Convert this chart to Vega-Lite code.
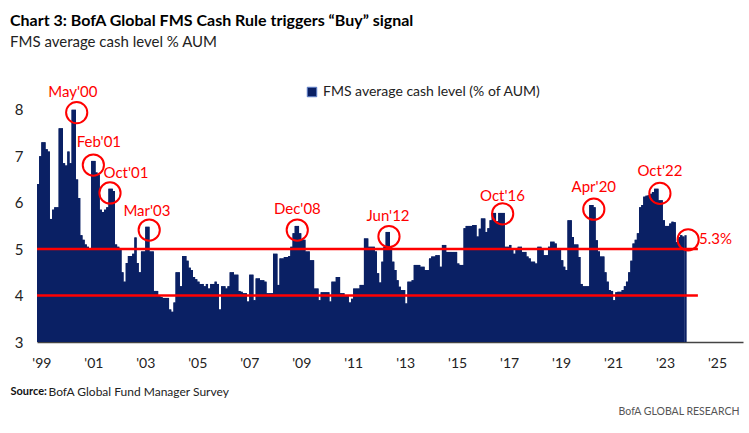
{
  "$schema": "https://vega.github.io/schema/vega-lite/v6.json",
  "width": 706,
  "height": 274,
  "autosize": {"type": "none"},
  "padding": {"left": 37, "top": 68, "right": 6, "bottom": 91},
  "background": "white",
  "config": {"view": {"stroke": null}, "font": "Lato, sans-serif"},
  "title": {
    "text": "Chart 3: BofA Global FMS Cash Rule triggers “Buy” signal",
    "subtitle": "FMS average cash level % AUM",
    "anchor": "start",
    "frame": "group",
    "dx": -27,
    "offset": 18,
    "font": "Lato, sans-serif",
    "subtitleFont": "Lato, sans-serif",
    "fontSize": 16,
    "fontWeight": "bold",
    "color": "#000000",
    "subtitleFontSize": 15,
    "subtitleColor": "#222222",
    "subtitlePadding": 6
  },
  "datasets": {
    "cash": [
      {"d":"1998-11","v":6.4},{"d":"1998-12","v":7.0},
      {"d":"1999-01","v":7.3},{"d":"1999-02","v":7.3},{"d":"1999-03","v":7.15},{"d":"1999-04","v":7.1},{"d":"1999-05","v":5.65},{"d":"1999-06","v":5.85},{"d":"1999-07","v":5.9},{"d":"1999-08","v":5.9},{"d":"1999-09","v":7.6},{"d":"1999-10","v":7.6},{"d":"1999-11","v":6.85},{"d":"1999-12","v":6.8},
      {"d":"2000-01","v":7.1},{"d":"2000-02","v":6.85},{"d":"2000-03","v":8.0},{"d":"2000-04","v":8.0},{"d":"2000-05","v":6.5},{"d":"2000-06","v":6.1},{"d":"2000-07","v":5.3},{"d":"2000-08","v":5.2},{"d":"2000-09","v":5.1},{"d":"2000-10","v":5.05},{"d":"2000-11","v":5.0},{"d":"2000-12","v":6.9},
      {"d":"2001-01","v":6.9},{"d":"2001-02","v":6.65},{"d":"2001-03","v":6.6},{"d":"2001-04","v":5.85},{"d":"2001-05","v":5.8},{"d":"2001-06","v":5.85},{"d":"2001-07","v":5.9},{"d":"2001-08","v":6.3},{"d":"2001-09","v":6.3},{"d":"2001-10","v":6.25},{"d":"2001-11","v":5.1},{"d":"2001-12","v":5.05},
      {"d":"2002-01","v":5.0},{"d":"2002-02","v":4.5},{"d":"2002-03","v":4.3},{"d":"2002-04","v":4.7},{"d":"2002-05","v":4.85},{"d":"2002-06","v":4.85},{"d":"2002-07","v":4.9},{"d":"2002-08","v":5.25},{"d":"2002-09","v":4.7},{"d":"2002-10","v":4.5},{"d":"2002-11","v":4.95},{"d":"2002-12","v":4.95},
      {"d":"2003-01","v":5.48},{"d":"2003-02","v":5.48},{"d":"2003-03","v":4.95},{"d":"2003-04","v":4.95},{"d":"2003-05","v":4.1},{"d":"2003-06","v":4.1},{"d":"2003-07","v":4.0},{"d":"2003-08","v":3.97},{"d":"2003-09","v":3.95},{"d":"2003-10","v":3.95},{"d":"2003-11","v":3.95},{"d":"2003-12","v":3.7},
      {"d":"2004-01","v":3.65},{"d":"2004-02","v":3.85},{"d":"2004-03","v":4.5},{"d":"2004-04","v":4.5},{"d":"2004-05","v":4.2},{"d":"2004-06","v":4.85},{"d":"2004-07","v":4.85},{"d":"2004-08","v":4.75},{"d":"2004-09","v":4.6},{"d":"2004-10","v":4.55},{"d":"2004-11","v":4.4},{"d":"2004-12","v":4.35},
      {"d":"2005-01","v":4.3},{"d":"2005-02","v":4.25},{"d":"2005-03","v":4.25},{"d":"2005-04","v":4.2},{"d":"2005-05","v":4.25},{"d":"2005-06","v":4.15},{"d":"2005-07","v":4.25},{"d":"2005-08","v":4.25},{"d":"2005-09","v":4.3},{"d":"2005-10","v":4.25},{"d":"2005-11","v":3.7},{"d":"2005-12","v":4.2},
      {"d":"2006-01","v":4.2},{"d":"2006-02","v":4.15},{"d":"2006-03","v":4.2},{"d":"2006-04","v":4.5},{"d":"2006-05","v":4.5},{"d":"2006-06","v":4.45},{"d":"2006-07","v":4.45},{"d":"2006-08","v":4.1},{"d":"2006-09","v":4.08},{"d":"2006-10","v":4.05},{"d":"2006-11","v":4.05},{"d":"2006-12","v":3.87},
      {"d":"2007-01","v":4.45},{"d":"2007-02","v":4.45},{"d":"2007-03","v":3.9},{"d":"2007-04","v":4.37},{"d":"2007-05","v":4.37},{"d":"2007-06","v":4.33},{"d":"2007-07","v":4.33},{"d":"2007-08","v":4.3},{"d":"2007-09","v":4.05},{"d":"2007-10","v":4.05},{"d":"2007-11","v":4.05},{"d":"2007-12","v":4.9},
      {"d":"2008-01","v":4.9},{"d":"2008-02","v":4.23},{"d":"2008-03","v":4.8},{"d":"2008-04","v":4.8},{"d":"2008-05","v":4.83},{"d":"2008-06","v":4.83},{"d":"2008-07","v":4.85},{"d":"2008-08","v":5.05},{"d":"2008-09","v":5.34},{"d":"2008-10","v":5.5},{"d":"2008-11","v":5.5},{"d":"2008-12","v":5.34},
      {"d":"2009-01","v":5.2},{"d":"2009-02","v":5.2},{"d":"2009-03","v":4.95},{"d":"2009-04","v":4.95},{"d":"2009-05","v":4.76},{"d":"2009-06","v":4.76},{"d":"2009-07","v":4.15},{"d":"2009-08","v":4.15},{"d":"2009-09","v":3.9},{"d":"2009-10","v":4.07},{"d":"2009-11","v":4.07},{"d":"2009-12","v":4.07},
      {"d":"2010-01","v":4.07},{"d":"2010-02","v":3.87},{"d":"2010-03","v":4.3},{"d":"2010-04","v":4.3},{"d":"2010-05","v":4.4},{"d":"2010-06","v":4.4},{"d":"2010-07","v":4.05},{"d":"2010-08","v":4.05},{"d":"2010-09","v":4.0},{"d":"2010-10","v":4.0},{"d":"2010-11","v":3.85},{"d":"2010-12","v":3.93},
      {"d":"2011-01","v":4.15},{"d":"2011-02","v":4.15},{"d":"2011-03","v":4.15},{"d":"2011-04","v":4.23},{"d":"2011-05","v":4.23},{"d":"2011-06","v":5.23},{"d":"2011-07","v":5.23},{"d":"2011-08","v":5.05},{"d":"2011-09","v":5.05},{"d":"2011-10","v":5.05},{"d":"2011-11","v":4.95},{"d":"2011-12","v":4.48},
      {"d":"2012-01","v":4.28},{"d":"2012-02","v":4.73},{"d":"2012-03","v":5.05},{"d":"2012-04","v":5.37},{"d":"2012-05","v":5.37},{"d":"2012-06","v":5.05},{"d":"2012-07","v":4.73},{"d":"2012-08","v":4.55},{"d":"2012-09","v":4.33},{"d":"2012-10","v":4.19},{"d":"2012-11","v":4.12},{"d":"2012-12","v":4.12},
      {"d":"2013-01","v":3.83},{"d":"2013-02","v":4.3},{"d":"2013-03","v":4.3},{"d":"2013-04","v":4.33},{"d":"2013-05","v":4.66},{"d":"2013-06","v":4.66},{"d":"2013-07","v":4.66},{"d":"2013-08","v":4.62},{"d":"2013-09","v":4.62},{"d":"2013-10","v":4.55},{"d":"2013-11","v":4.55},{"d":"2013-12","v":4.8},
      {"d":"2014-01","v":4.84},{"d":"2014-02","v":4.84},{"d":"2014-03","v":4.87},{"d":"2014-04","v":4.87},{"d":"2014-05","v":4.62},{"d":"2014-06","v":5.09},{"d":"2014-07","v":5.09},{"d":"2014-08","v":4.94},{"d":"2014-09","v":4.94},{"d":"2014-10","v":4.94},{"d":"2014-11","v":4.94},{"d":"2014-12","v":4.94},
      {"d":"2015-01","v":4.69},{"d":"2015-02","v":4.66},{"d":"2015-03","v":4.66},{"d":"2015-04","v":5.45},{"d":"2015-05","v":5.5},{"d":"2015-06","v":5.5},{"d":"2015-07","v":5.5},{"d":"2015-08","v":5.52},{"d":"2015-09","v":5.52},{"d":"2015-10","v":5.27},{"d":"2015-11","v":5.44},{"d":"2015-12","v":5.66},
      {"d":"2016-01","v":5.66},{"d":"2016-02","v":5.37},{"d":"2016-03","v":5.45},{"d":"2016-04","v":5.62},{"d":"2016-05","v":5.78},{"d":"2016-06","v":5.78},{"d":"2016-07","v":5.6},{"d":"2016-08","v":5.78},{"d":"2016-09","v":5.78},{"d":"2016-10","v":5.78},{"d":"2016-11","v":5.05},{"d":"2016-12","v":5.05},
      {"d":"2017-01","v":5.09},{"d":"2017-02","v":4.98},{"d":"2017-03","v":4.9},{"d":"2017-04","v":5.01},{"d":"2017-05","v":5.05},{"d":"2017-06","v":5.05},{"d":"2017-07","v":4.94},{"d":"2017-08","v":4.94},{"d":"2017-09","v":4.84},{"d":"2017-10","v":4.8},{"d":"2017-11","v":4.73},{"d":"2017-12","v":4.73},
      {"d":"2018-01","v":4.69},{"d":"2018-02","v":5.05},{"d":"2018-03","v":5.05},{"d":"2018-04","v":5.01},{"d":"2018-05","v":4.87},{"d":"2018-06","v":4.87},{"d":"2018-07","v":5.05},{"d":"2018-08","v":5.16},{"d":"2018-09","v":5.16},{"d":"2018-10","v":5.12},{"d":"2018-11","v":4.98},{"d":"2018-12","v":4.98},
      {"d":"2019-01","v":4.76},{"d":"2019-02","v":4.62},{"d":"2019-03","v":4.55},{"d":"2019-04","v":5.62},{"d":"2019-05","v":5.62},{"d":"2019-06","v":5.26},{"d":"2019-07","v":5.1},{"d":"2019-08","v":5.1},{"d":"2019-09","v":4.83},{"d":"2019-10","v":4.25},{"d":"2019-11","v":4.2},{"d":"2019-12","v":4.2},
      {"d":"2020-01","v":4.2},{"d":"2020-02","v":5.95},{"d":"2020-03","v":5.95},{"d":"2020-04","v":5.9},{"d":"2020-05","v":5.19},{"d":"2020-06","v":4.95},{"d":"2020-07","v":4.84},{"d":"2020-08","v":4.84},{"d":"2020-09","v":4.5},{"d":"2020-10","v":4.3},{"d":"2020-11","v":4.12},{"d":"2020-12","v":4.1},
      {"d":"2021-01","v":3.9},{"d":"2021-02","v":4.07},{"d":"2021-03","v":4.08},{"d":"2021-04","v":4.08},{"d":"2021-05","v":4.12},{"d":"2021-06","v":4.2},{"d":"2021-07","v":4.3},{"d":"2021-08","v":4.5},{"d":"2021-09","v":4.75},{"d":"2021-10","v":5.12},{"d":"2021-11","v":5.2},{"d":"2021-12","v":5.34},
      {"d":"2022-01","v":5.9},{"d":"2022-02","v":5.95},{"d":"2022-03","v":6.13},{"d":"2022-04","v":6.15},{"d":"2022-05","v":6.16},{"d":"2022-06","v":6.19},{"d":"2022-07","v":6.23},{"d":"2022-08","v":6.3},{"d":"2022-09","v":6.3},{"d":"2022-10","v":6.05},{"d":"2022-11","v":6.05},{"d":"2022-12","v":5.62},
      {"d":"2023-01","v":5.5},{"d":"2023-02","v":5.5},{"d":"2023-03","v":5.55},{"d":"2023-04","v":5.59},{"d":"2023-05","v":5.58},{"d":"2023-06","v":5.15},{"d":"2023-07","v":5.26},{"d":"2023-08","v":5.3},{"d":"2023-09","v":5.27},{"d":"2023-10","v":5.3}
    ]
  },
  "resolve": {"axis": {"y": "independent"}},
  "layer": [
    {
      "data": {"name": "cash", "format": {"parse": {"d": "date:'%Y-%m'"}}},
      "transform": [{"timeUnit": "yearmonth", "field": "d", "as": "m"}],
      "layer": [
        {
          "mark": {"type": "rect", "clip": true},
          "encoding": {
            "x": {
              "field": "m", "type": "temporal",
              "scale": {"domain": [{"year": 1998, "month": 11, "date": 1}, {"year": 2026, "month": 1, "date": 1}]},
              "axis": {
                "values": [
                  {"year":1999,"month":1,"date":1},{"year":2001,"month":1,"date":1},{"year":2003,"month":1,"date":1},{"year":2005,"month":1,"date":1},
                  {"year":2007,"month":1,"date":1},{"year":2009,"month":1,"date":1},{"year":2011,"month":1,"date":1},{"year":2013,"month":1,"date":1},
                  {"year":2015,"month":1,"date":1},{"year":2017,"month":1,"date":1},{"year":2019,"month":1,"date":1},{"year":2021,"month":1,"date":1},
                  {"year":2023,"month":1,"date":1},{"year":2025,"month":1,"date":1}
                ],
                "format": "'%y", "formatType": "time",
                "labelFlush": false, "ticks": false, "grid": false,
                "domainColor": "#444444", "domainWidth": 1.5,
                "labelFont": "Lato, sans-serif", "labelFontSize": 14, "labelColor": "#222222", "labelPadding": 14,
                "title": "Source:", "titleFont": "Lato, sans-serif", "titleFontWeight": "bold", "titleFontSize": 11, "titleColor": "#111111",
                "titleX": -27, "titleY": 49, "titleAlign": "left", "titleBaseline": "middle", "titleAngle": 0
              }
            },
            "x2": {"field": "m_end"},
            "y": {
              "field": "v", "type": "quantitative",
              "scale": {"domain": [3, 8.9], "nice": false, "zero": false},
              "axis": {
                "values": [3, 4, 5, 6, 7, 8], "domain": false, "ticks": false, "grid": false,
                "labelFont": "Lato, sans-serif", "labelFontSize": 15, "labelColor": "#222222", "labelPadding": 14,
                "title": "BofA Global Fund Manager Survey", "titleFont": "Lato, sans-serif", "titleAngle": 0, "titleX": 11, "titleY": 323,
                "titleAlign": "left", "titleBaseline": "middle", "titleFontWeight": "normal", "titleFontSize": 12, "titleColor": "#222222"
              }
            },
            "y2": {"datum": 3},
            "color": {
              "datum": "FMS average cash level (% of AUM)",
              "scale": {"range": ["#0a2064"]},
              "legend": {
                "orient": "none", "legendX": 268, "legendY": 17, "title": null,
                "symbolType": "square", "symbolSize": 90, "symbolStrokeColor": "#6080c8", "symbolStrokeWidth": 1,
                "labelFont": "Lato, sans-serif", "labelFontSize": 14, "labelColor": "#222222", "labelLimit": 400
              }
            }
          }
        },
        {
          "mark": {"type": "area", "interpolate": "step-after", "color": "#0a2064", "clip": true},
          "encoding": {
            "x": {"field": "m", "type": "temporal"},
            "y": {"field": "v", "type": "quantitative"},
            "y2": {"datum": 3}
          }
        }
      ]
    },
    {
      "data": {"values": [
        {"level": 5, "start": "1998-11-01", "end": "2024-04-07"},
        {"level": 4, "start": "1998-11-01", "end": "2024-04-07"}
      ]},
      "mark": {"type": "rule", "color": "#ff0000", "strokeWidth": 2.5},
      "encoding": {
        "x": {"field": "start", "type": "temporal"},
        "x2": {"field": "end"},
        "y": {
          "field": "level", "type": "quantitative",
          "axis": {
            "orient": "right", "labels": false, "ticks": false, "domain": false, "grid": false,
            "title": "BofA GLOBAL RESEARCH", "titleFont": "Lato, sans-serif", "titleAngle": 0, "titleX": -4, "titleY": 343,
            "titleAlign": "right", "titleBaseline": "middle", "titleFontSize": 10.5, "titleFontWeight": "normal", "titleColor": "#555555"
          }
        }
      }
    },
    {
      "data": {"values": [
        {"label":"May'00","cd":"2000-05-12","cv":7.94,"ld":"2000-03-20","lv":8.38},
        {"label":"Feb'01","cd":"2001-01-01","cv":6.81,"ld":"2001-03-20","lv":7.31},
        {"label":"Oct'01","cd":"2001-08-23","cv":6.21,"ld":"2002-04-04","lv":6.64},
        {"label":"Mar'03","cd":"2003-02-25","cv":5.41,"ld":"2003-01-24","lv":5.82},
        {"label":"Dec'08","cd":"2008-11-06","cv":5.41,"ld":"2008-11-08","lv":5.86},
        {"label":"Jun'12","cd":"2012-05-18","cv":5.27,"ld":"2012-05-04","lv":5.72},
        {"label":"Oct'16","cd":"2016-10-02","cv":5.76,"ld":"2016-09-29","lv":6.15},
        {"label":"Apr'20","cd":"2020-04-05","cv":5.86,"ld":"2020-04-05","lv":6.33},
        {"label":"Oct'22","cd":"2022-10-21","cv":6.2,"ld":"2022-10-21","lv":6.68},
        {"label":"5.3%","cd":"2023-11-22","cv":5.2,"ld":"2024-12-10","lv":5.21}
      ]},
      "layer": [
        {
          "mark": {"type": "point", "shape": "circle", "filled": false, "stroke": "#ff0000", "strokeWidth": 2, "size": 450, "opacity": 1},
          "encoding": {
            "x": {"field": "cd", "type": "temporal"},
            "y": {"field": "cv", "type": "quantitative", "axis": null}
          }
        },
        {
          "mark": {"type": "text", "color": "#ff0000", "font": "Lato, sans-serif", "fontSize": 15, "align": "center", "baseline": "middle"},
          "encoding": {
            "x": {"field": "ld", "type": "temporal"},
            "y": {"field": "lv", "type": "quantitative", "axis": null},
            "text": {"field": "label"}
          }
        }
      ]
    }
  ]
}
